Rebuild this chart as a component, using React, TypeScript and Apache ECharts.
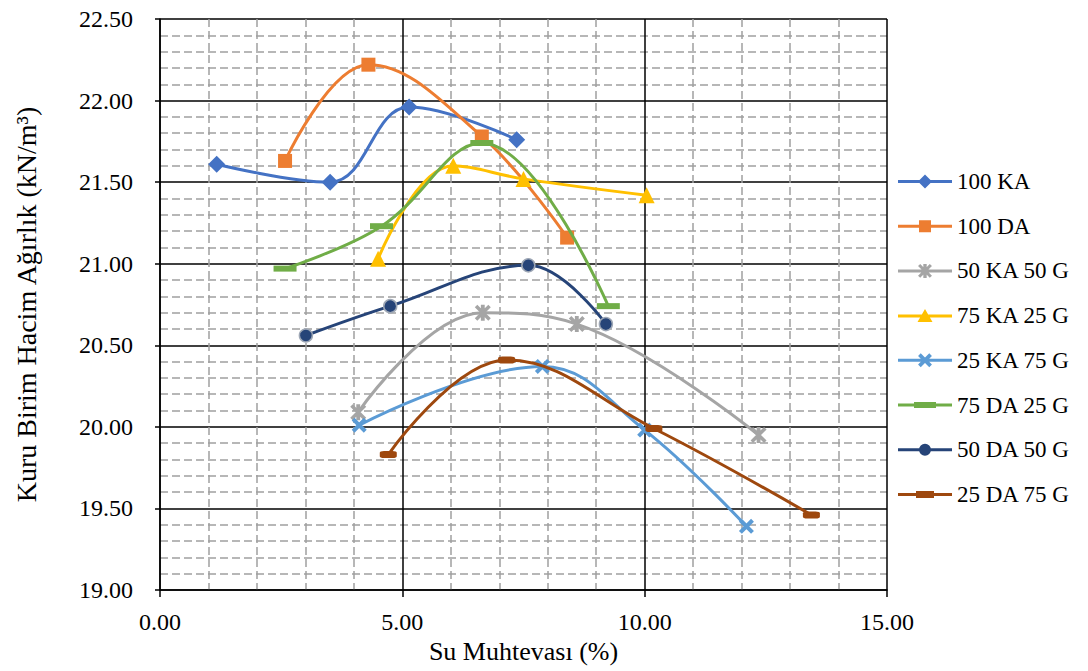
import { useEffect, useRef } from 'react';
import * as echarts from 'echarts';

const FONT = 'Liberation Serif';

const seriesNames = ['100 KA', '100 DA', '50 KA 50 G', '75 KA 25 G', '25 KA 75 G', '75 DA 25 G', '50 DA 50 G', '25 DA 75 G'];
const seriesColors = ['#4472C4', '#ED7D31', '#A5A5A5', '#FFC000', '#5B9BD5', '#70AD47', '#264478', '#9E480E'];

// Water content (%) and dry unit weight (kN/m3) for each mixture
const ka100Water = [1.17, 3.51, 5.14, 7.36];
const ka100Weight = [21.61, 21.5, 21.96, 21.76];
const da100Water = [2.58, 4.3, 6.64, 8.4];
const da100Weight = [21.63, 22.22, 21.78, 21.16];
const ka50g50Water = [4.09, 6.66, 8.6, 12.35];
const ka50g50Weight = [20.09, 20.7, 20.63, 19.95];
const ka75g25Water = [4.5, 6.05, 7.5, 10.04];
const ka75g25Weight = [21.03, 21.6, 21.52, 21.42];
const ka25g75Water = [4.11, 7.89, 10.0, 12.1];
const ka25g75Weight = [20.01, 20.37, 19.98, 19.39];
const da75g25Water = [2.58, 4.57, 6.64, 9.25];
const da75g25Weight = [20.97, 21.23, 21.74, 20.74];
const da50g50Water = [3.01, 4.75, 7.6, 9.2];
const da50g50Weight = [20.56, 20.74, 20.99, 20.63];
const da25g75Water = [4.71, 7.15, 10.19, 13.44];
const da25g75Weight = [19.83, 20.41, 19.99, 19.46];

const waterSets = [ka100Water, da100Water, ka50g50Water, ka75g25Water, ka25g75Water, da75g25Water, da50g50Water, da25g75Water];
const weightSets = [ka100Weight, da100Weight, ka50g50Weight, ka75g25Weight, ka25g75Weight, da75g25Weight, da50g50Weight, da25g75Weight];

// Marker outlines in a 10x10 box
type Poly = number[][];
const asterisk: Poly[] = [
  [[3.8, 0], [6.2, 0], [6.2, 10], [3.8, 10]],
  [[1.58, 0.02], [9.98, 8.42], [8.42, 9.98], [0.02, 1.58]],
  [[8.42, 0.02], [9.98, 1.58], [1.58, 9.98], [0.02, 8.42]],
];
const cross: Poly[] = [
  [[1.95, 0.05], [9.95, 8.05], [8.05, 9.95], [0.05, 1.95]],
  [[8.05, 0.05], [9.95, 1.95], [1.95, 9.95], [0.05, 8.05]],
];

function toPath(polys: Poly[], ox: number, oy: number, s: number): string {
  return polys
    .map((p) => 'M' + p.map(([x, y]) => `${(ox + x * s).toFixed(2)} ${(oy + y * s).toFixed(2)}`).join(' L') + ' Z')
    .join(' ');
}

const seriesSymbols: string[] = [
  'diamond',
  'rect',
  'path://' + toPath(asterisk, 0, 0, 1),
  'triangle',
  'path://' + toPath(cross, 0, 0, 1),
  'rect',
  'circle',
  'roundRect',
];
const seriesSymbolSizes: (number | number[])[] = [17, 14, 16, 16, 15, [23, 6], 13, [17, 7]];

// Legend icons: line segment with the marker in the middle (54 x 14 box)
const bar = 'M0 5.5 L54 5.5 L54 8.5 L0 8.5 Z';
const legendMarks = [
  'M27 0 L34 7 L27 14 L20 7 Z',
  'M21 1 L33 1 L33 13 L21 13 Z',
  toPath(asterisk, 20, 0, 1.4),
  'M27 0 L34.5 13 L19.5 13 Z',
  toPath(cross, 20, 0, 1.4),
  'M16 4 L38 4 L38 10 L16 10 Z',
  'M21 7 A6 6 0 1 1 33 7 A6 6 0 1 1 21 7 Z',
  'M18 3.5 L36 3.5 L36 10.5 L18 10.5 Z',
];

const tickRich = { t: { fontFamily: FONT, fontSize: 24, color: '#000' } };
const tickFormatter = (v: number) => `{t|${v.toFixed(2)}}`;

export default function App() {
  const ref = useRef<HTMLDivElement>(null);

  useEffect(() => {
    if (!ref.current) return;
    const chart = echarts.init(ref.current, null, { renderer: 'svg' });

    const series = seriesNames.map((name, i) => ({
      name,
      type: 'line',
      data: waterSets[i].map((w, j) => [w, weightSets[i][j]]),
      smooth: 0.4,
      symbol: seriesSymbols[i],
      symbolSize: seriesSymbolSizes[i],
      showAllSymbol: true,
      color: seriesColors[i],
      lineStyle: { width: 3, color: seriesColors[i] },
      itemStyle:
        i === 6
          ? { color: seriesColors[i], borderColor: '#9EA7B5', borderWidth: 1.5 }
          : { color: seriesColors[i] },
      emphasis: { disabled: true },
      z: 3 + i,
    }));

    chart.setOption({
      animation: false,
      backgroundColor: '#ffffff',
      textStyle: { fontFamily: FONT, color: '#000' },
      grid: { left: 160, right: 201, top: 19, bottom: 81, containLabel: false },
      legend: {
        orient: 'vertical',
        left: 898,
        top: 170,
        padding: 0,
        itemWidth: 54,
        itemHeight: 14,
        itemGap: 21.7,
        selectedMode: false,
        textStyle: { fontFamily: FONT, fontSize: 23, color: '#000', lineHeight: 23 },
        data: seriesNames.map((name, i) => ({
          name,
          icon: 'path://' + bar + ' ' + legendMarks[i],
          itemStyle: { borderWidth: 0 },
        })),
      },
      xAxis: {
        type: 'value',
        min: 0,
        max: 15,
        interval: 5,
        name: 'Su Muhtevası (%)',
        nameLocation: 'middle',
        nameGap: 38,
        nameTextStyle: { fontFamily: FONT, fontSize: 26, color: '#000' },
        axisLine: { show: true, onZero: false, lineStyle: { color: '#000', width: 1.5 } },
        axisTick: { show: true, inside: false, length: 7, lineStyle: { color: '#000', width: 1.5 } },
        axisLabel: {
          fontFamily: FONT,
          fontSize: 24,
          color: '#000',
          margin: 20,
          formatter: tickFormatter,
          rich: tickRich,
        },
        splitLine: { show: true, lineStyle: { color: '#000', width: 1.5 } },
        minorTick: { show: false, splitNumber: 5 },
        minorSplitLine: { show: true, lineStyle: { color: '#A0A0A0', width: 1.5, type: [8, 4] } },
      },
      yAxis: {
        type: 'value',
        min: 19,
        max: 22.5,
        interval: 0.5,
        name: 'Kuru Birim Hacim Ağırlık (kN/m³)',
        nameLocation: 'middle',
        nameGap: 120,
        nameRotate: 90,
        nameTextStyle: { fontFamily: FONT, fontSize: 28, color: '#000' },
        axisLine: { show: true, onZero: false, lineStyle: { color: '#000', width: 1.5 } },
        axisTick: { show: true, inside: false, length: 5, lineStyle: { color: '#000', width: 1.5 } },
        axisLabel: {
          fontFamily: FONT,
          fontSize: 24,
          color: '#000',
          margin: 27,
          formatter: tickFormatter,
          rich: tickRich,
        },
        splitLine: { show: true, lineStyle: { color: '#000', width: 1.5 } },
        minorTick: { show: false, splitNumber: 5 },
        minorSplitLine: { show: true, lineStyle: { color: '#A0A0A0', width: 1.5, type: [8, 4] } },
      },
      series,
    });

    return () => {
      chart.dispose();
    };
  }, []);

  return (
    <div
      ref={ref}
      style={{ position: 'fixed', left: 0, top: 0, width: 1088, height: 671, background: '#fff' }}
    />
  );
}
